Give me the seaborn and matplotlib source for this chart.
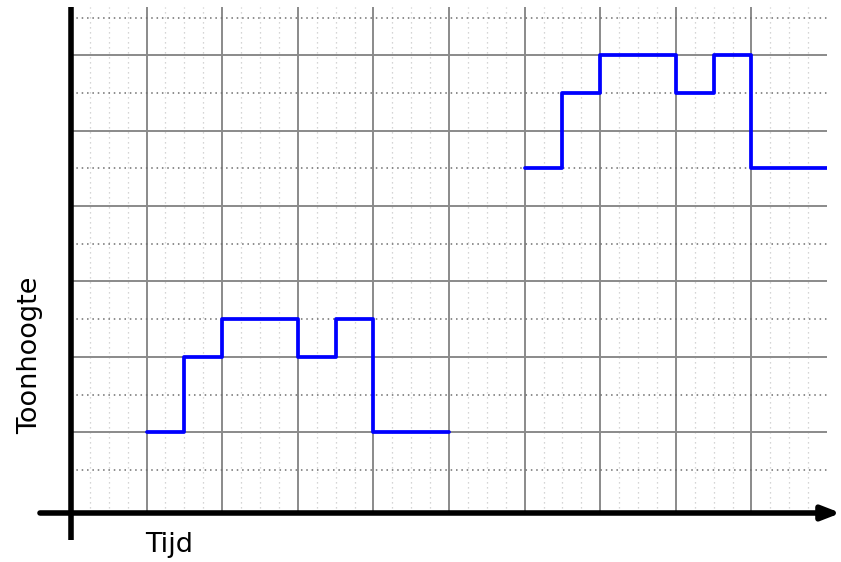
import numpy as np
import pandas as pd
import seaborn as sns
import matplotlib.pyplot as plt

# melodie: begintijd van elke noot en toonhoogte (laatste punt = einde van de frase)
frase1_tijd = [1, 1.5, 2, 3, 3.5, 4, 5]
frase1_toon = [2, 4, 5, 4, 5, 2, 2]
frase2_tijd = [6, 6.5, 7, 8, 8.5, 9, 10]
frase2_toon = [9, 11, 12, 11, 12, 9, 9]

df = pd.DataFrame({
    "tijd": frase1_tijd + frase2_tijd,
    "toon": frase1_toon + frase2_toon,
    "frase": [1] * len(frase1_tijd) + [2] * len(frase2_tijd),
})

sns.set_theme(style="white")
plt.rcParams['font.family'] = ['DejaVu Sans']

fig = plt.figure(figsize=(8.41, 5.62), dpi=100)
ax = fig.add_axes([0.0844, 0.0872, 0.899, 0.9003])

x0, x1 = 0, 10
y0, y1 = -0.14, 13.28
ax.set_xlim(x0, x1)
ax.set_ylim(y0, y1)

# raster
for x in np.arange(0.25, 10, 0.25):
    if x % 1 != 0:
        ax.axvline(x, color="#c8c8c8", lw=0.9, ls=(0, (1, 3)), zorder=0)
for x in range(1, 10):
    ax.axvline(x, color="#8a8a8a", lw=1.4, zorder=1)
for y in range(1, 14, 2):
    ax.axhline(y, color="#6e6e6e", lw=1.1, ls=(0, (1, 2.5)), zorder=1)
for y in range(2, 13, 2):
    ax.axhline(y, color="#8a8a8a", lw=1.4, zorder=1)

sns.lineplot(data=df, x="tijd", y="toon", units="frase", estimator=None,
             drawstyle="steps-post", color="#0000ff", lw=2.7, ax=ax, zorder=3)

for s in ax.spines.values():
    s.set_visible(False)
ax.set_xticks([])
ax.set_yticks([])
ax.set_xlabel("")
ax.set_ylabel("")

# assen met pijl
ax.plot([0, 0], [y1, -0.86], color="black", lw=4, clip_on=False,
        solid_capstyle="butt", zorder=5)
ax.annotate("", xy=(10.18, y0), xytext=(-0.41, y0),
            xycoords="data", annotation_clip=False,
            arrowprops=dict(arrowstyle="-|>,head_length=0.9,head_width=0.35",
                            color="black", lw=4, shrinkA=0, shrinkB=0),
            zorder=5)

ax.text(1.3, -0.98, "Tijd", fontsize=19.5, color="black",
        ha="center", va="center", clip_on=False)
ax.text(-0.54, 4.05, "Toonhoogte", fontsize=19.5, color="black", rotation=90,
        ha="center", va="center", clip_on=False)

fig.savefig("out.png", dpi=100)
